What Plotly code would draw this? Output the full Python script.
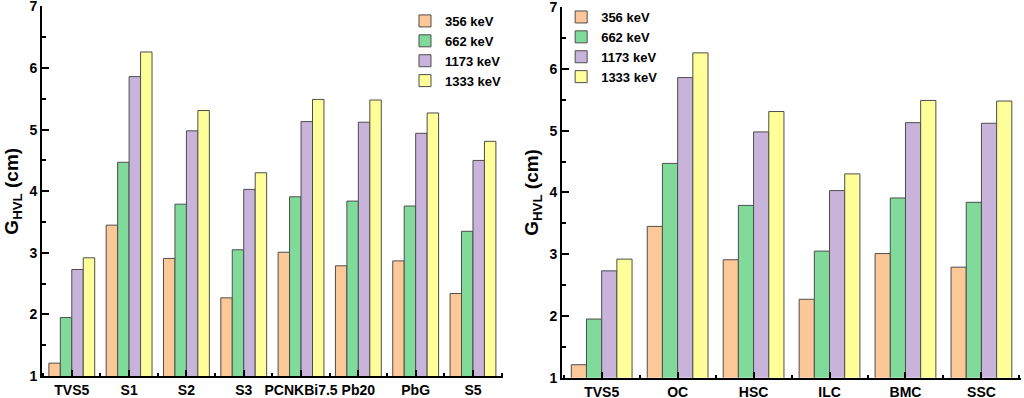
import plotly.graph_objects as go

# ---- data ----
left_categories = ["TVS5", "S1", "S2", "S3", "PCNKBi7.5", "Pb20", "PbG", "S5"]
right_categories = ["TVS5", "OC", "HSC", "ILC", "BMC", "SSC"]
energies = ["356 keV", "662 keV", "1173 keV", "1333 keV"]

left_356 = [1.21, 3.45, 2.91, 2.27, 3.01, 2.79, 2.87, 2.34]
left_662 = [1.95, 4.47, 3.79, 3.05, 3.91, 3.84, 3.76, 3.35]
left_1173 = [2.73, 5.86, 4.98, 4.03, 5.13, 5.12, 4.94, 4.50]
left_1333 = [2.92, 6.26, 5.31, 4.30, 5.49, 5.48, 5.27, 4.81]

right_356 = [1.21, 3.45, 2.91, 2.27, 3.01, 2.79]
right_662 = [1.95, 4.47, 3.79, 3.05, 3.91, 3.84]
right_1173 = [2.73, 5.86, 4.98, 4.03, 5.13, 5.12]
right_1333 = [2.92, 6.26, 5.31, 4.30, 5.49, 5.48]

colors = ["#FDC897", "#80DB9B", "#C8B4DB", "#FFFF99"]

fig = go.Figure()

left_series = [left_356, left_662, left_1173, left_1333]
right_series = [right_356, right_662, right_1173, right_1333]

for name, vals, col in zip(energies, left_series, colors):
    fig.add_trace(go.Bar(
        x=list(range(len(left_categories))), y=vals, name=name,
        marker=dict(color=col, line=dict(color="#4d4d4d", width=1)),
        xaxis="x", yaxis="y", legend="legend", offsetgroup=name,
    ))
for name, vals, col in zip(energies, right_series, colors):
    fig.add_trace(go.Bar(
        x=list(range(len(right_categories))), y=vals, name=name,
        marker=dict(color=col, line=dict(color="#4d4d4d", width=1)),
        xaxis="x2", yaxis="y2", legend="legend2", offsetgroup=name,
    ))

FAM = "Liberation Sans, Arial, sans-serif"
bold = dict(family=FAM, size=14, color="black", weight="bold")

def xaxis_cfg(cats, domain, anchor):
    return dict(
        domain=domain, anchor=anchor, automargin=False,
        range=[-0.52, len(cats) - 0.48],
        tickmode="array", tickvals=list(range(len(cats))), ticktext=cats,
        ticks="inside", ticklen=6, tickwidth=2, tickcolor="black",
        minor=dict(ticks="inside", ticklen=3, tickwidth=2, tickcolor="black",
                   tickmode="linear", tick0=0.5, dtick=1),
        showline=True, linecolor="black", linewidth=2,
        showgrid=False, zeroline=False,
        tickfont=bold, ticklabeloverflow="allow",
    )

def yaxis_cfg(domain, anchor):
    return dict(
        domain=domain, anchor=anchor, automargin=False,
        range=[1, 7.0001], tickmode="linear", tick0=1, dtick=1,
        ticks="inside", ticklen=7, tickwidth=2, tickcolor="black",
        minor=dict(ticks="inside", ticklen=4, tickwidth=2, tickcolor="black", dtick=0.5),
        showline=True, linecolor="black", linewidth=2,
        showgrid=False, zeroline=False,
        tickfont=bold, ticklabeloverflow="allow",
        title=dict(text="G<sub>HVL</sub> (cm)", standoff=6,
                   font=dict(family=FAM, size=19, color="black", weight="bold")),
    )

legend_font = dict(family=FAM, size=13, color="black", weight="bold")

fig.update_layout(
    width=1024, height=398,
    margin=dict(l=0, r=0, t=0, b=0),
    paper_bgcolor="white", plot_bgcolor="white",
    barmode="group", bargap=0.2, bargroupgap=0,
    xaxis=xaxis_cfg(left_categories, [0.041, 0.491], "y"),
    yaxis=yaxis_cfg([0.055, 0.984], "x"),
    xaxis2=xaxis_cfg(right_categories, [0.549, 0.997], "y2"),
    yaxis2=yaxis_cfg([0.051, 0.982], "x2"),
    legend=dict(x=0.3955, y=0.985, xanchor="left", yanchor="top", font=legend_font,
                bgcolor="rgba(0,0,0,0)", tracegroupgap=0, itemwidth=30),
    legend2=dict(x=0.548, y=0.995, xanchor="left", yanchor="top", font=legend_font,
                 bgcolor="rgba(0,0,0,0)", tracegroupgap=0, itemwidth=30),
    showlegend=True,
)

fig.write_html("out.html", config={"displayModeBar": False},
               post_script="document.body.style.margin='0';document.body.style.padding='0';")
